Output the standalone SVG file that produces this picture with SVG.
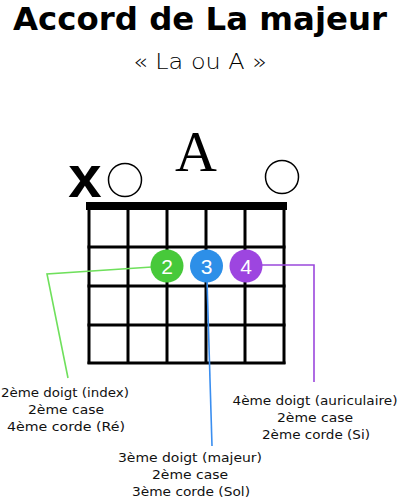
<svg xmlns="http://www.w3.org/2000/svg" width="400" height="500" viewBox="0 0 400 500">
<style>
.grid line{stroke:#000;stroke-width:3}
.lbl{font-family:"DejaVu Sans","Liberation Sans",sans-serif;font-size:13px;fill:#111;text-anchor:middle}
.num{font-family:"Liberation Sans",sans-serif;font-size:21px;fill:#fff;text-anchor:middle}
.conn{fill:none;stroke-width:1.6}
</style>
<rect width="400" height="500" fill="#fff"/>
<text x="200" y="30" font-family="'DejaVu Sans','Liberation Sans',sans-serif" font-weight="bold" font-size="32" text-anchor="middle" textLength="374" lengthAdjust="spacingAndGlyphs" fill="#000">Accord de La majeur</text>
<text x="200" y="69" font-family="'DejaVu Sans','Liberation Sans',sans-serif" font-weight="300" font-size="22" text-anchor="middle" textLength="134" lengthAdjust="spacingAndGlyphs" fill="#000">« La ou A »</text>
<text x="196" y="171" font-family="'Liberation Serif',serif" font-size="58" text-anchor="middle" fill="#000">A</text>
<text x="85" y="197" font-family="'Liberation Sans',sans-serif" font-weight="bold" font-size="60" text-anchor="middle" fill="#000">x</text>
<circle cx="125" cy="180" r="16.5" fill="none" stroke="#000" stroke-width="1.5"/>
<circle cx="282" cy="177" r="16.5" fill="none" stroke="#000" stroke-width="1.5"/>
<g id="fretboard" class="grid">
<rect x="86" y="202" width="201" height="8" fill="#000"/>
<line x1="89" y1="206" x2="89" y2="364"/>
<line x1="128" y1="206" x2="128" y2="364"/>
<line x1="167" y1="206" x2="167" y2="364"/>
<line x1="206" y1="206" x2="206" y2="364"/>
<line x1="245" y1="206" x2="245" y2="364"/>
<line x1="284" y1="206" x2="284" y2="364"/>
<line x1="87.5" y1="247" x2="285.5" y2="247"/>
<line x1="87.5" y1="286" x2="285.5" y2="286"/>
<line x1="87.5" y1="325" x2="285.5" y2="325"/>
<line x1="87.5" y1="363" x2="285.5" y2="363"/>
</g>
<g id="connectors">
<polyline class="conn" stroke="#6fe05c" points="152,267 47,274 68,378"/>
<polyline class="conn" stroke="#3a8ef0" points="207,280 212,446"/>
<polyline class="conn" stroke="#9b48dc" points="262,265 314,265 314,382"/>
</g>
<g id="finger2">
<circle cx="167" cy="266" r="16.5" fill="#47c93a"/>
<text class="num" x="167" y="273.5">2</text>
</g>
<g id="finger3">
<circle cx="206.5" cy="266" r="16.5" fill="#2d8fe8"/>
<text class="num" x="206.5" y="273.5">3</text>
</g>
<g id="finger4">
<circle cx="246" cy="266" r="16.5" fill="#9d45e0"/>
<text class="num" x="246" y="273.5">4</text>
</g>
<g id="label2">
<text class="lbl" x="65" y="397" textLength="128" lengthAdjust="spacingAndGlyphs">2ème doigt (index)</text>
<text class="lbl" x="66" y="414" textLength="76" lengthAdjust="spacingAndGlyphs">2ème case</text>
<text class="lbl" x="66" y="431" textLength="118" lengthAdjust="spacingAndGlyphs">4ème corde (Ré)</text>
</g>
<g id="label3">
<text class="lbl" x="190" y="462" textLength="144" lengthAdjust="spacingAndGlyphs">3ème doigt (majeur)</text>
<text class="lbl" x="190" y="479" textLength="76" lengthAdjust="spacingAndGlyphs">2ème case</text>
<text class="lbl" x="191" y="496" textLength="118" lengthAdjust="spacingAndGlyphs">3ème corde (Sol)</text>
</g>
<g id="label4">
<text class="lbl" x="315" y="405" textLength="165" lengthAdjust="spacingAndGlyphs">4ème doigt (auriculaire)</text>
<text class="lbl" x="315" y="422" textLength="76" lengthAdjust="spacingAndGlyphs">2ème case</text>
<text class="lbl" x="316" y="439" textLength="108" lengthAdjust="spacingAndGlyphs">2ème corde (Si)</text>
</g>
</svg>
